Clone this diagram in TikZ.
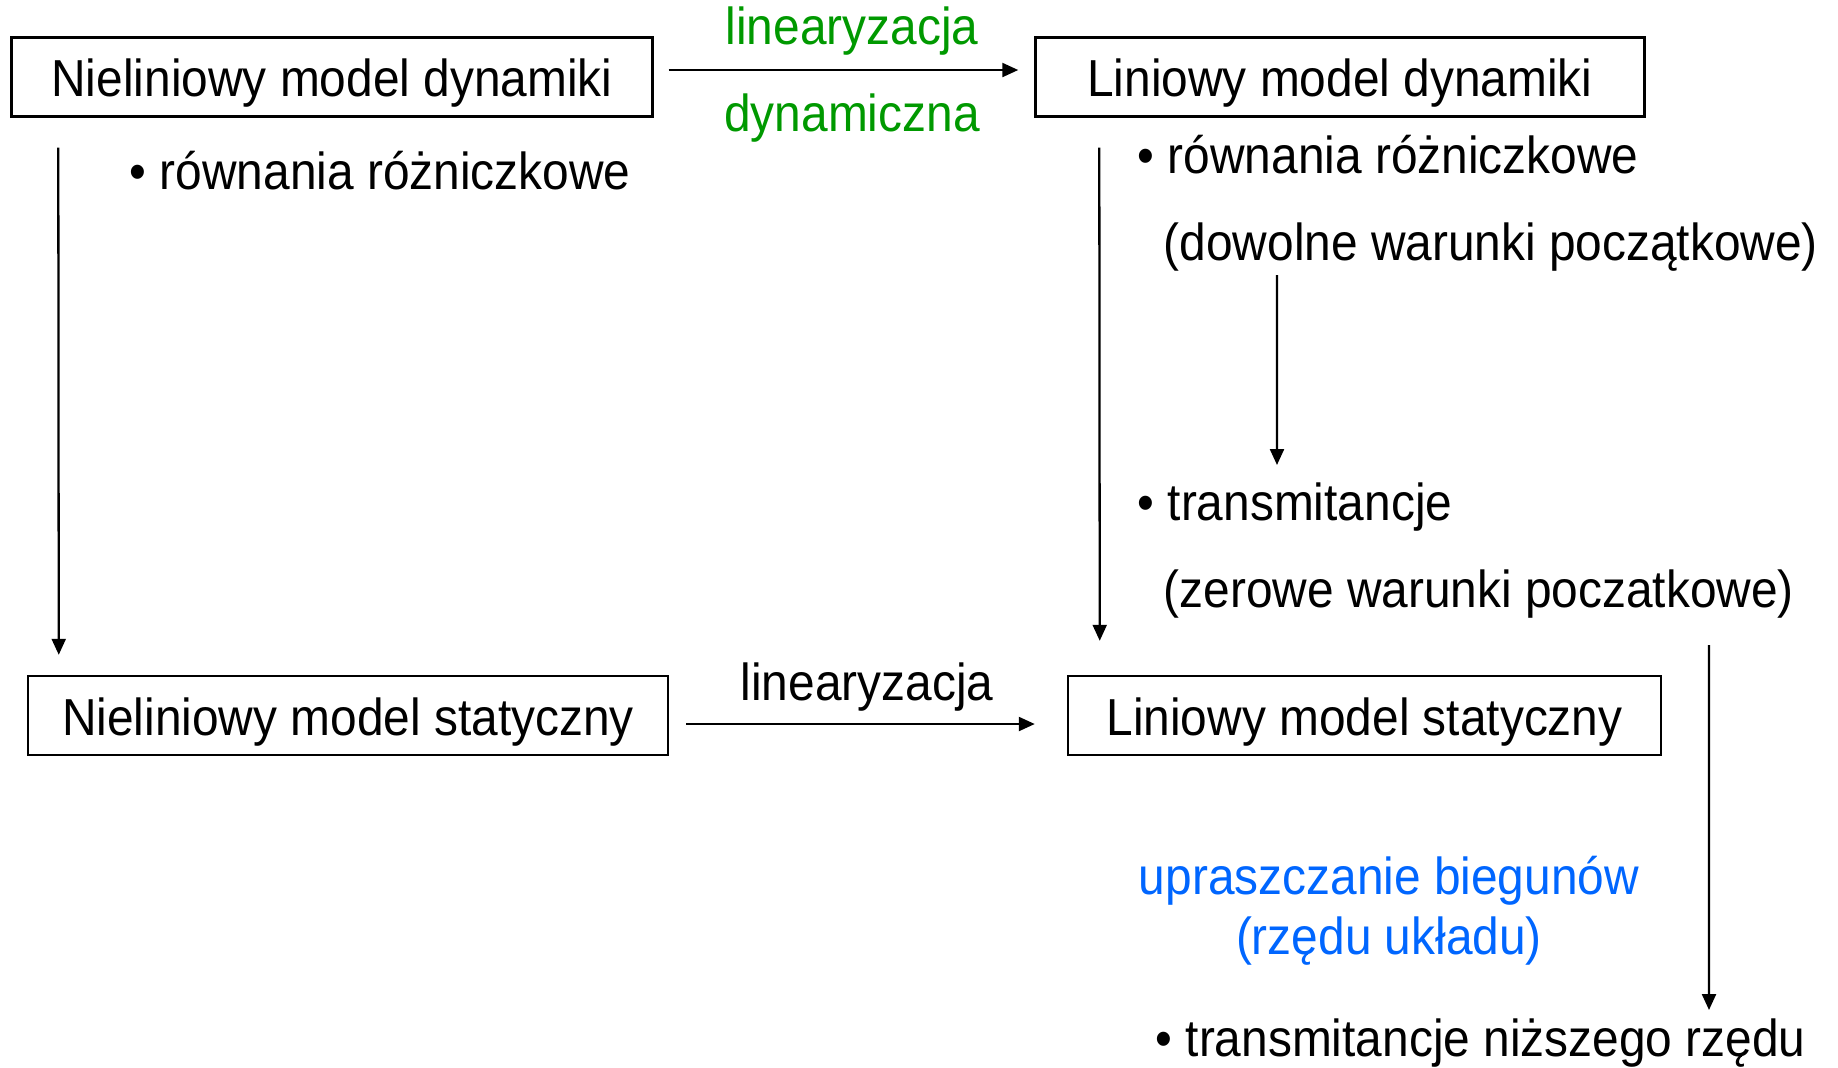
\documentclass[tikz,border=0pt]{standalone}
\usepackage{fontspec}
\setmainfont{Liberation Sans}[FakeStretch=0.92]
\usetikzlibrary{arrows.meta}
\definecolor{linGreen}{RGB}{0,153,0}
\definecolor{simpBlue}{RGB}{0,102,255}

\begin{document}
\begin{tikzpicture}[
    every node/.style={inner sep=0pt, font=\fontsize{14.8}{16.8}\selectfont},
    model/.style={draw, line width=0.7pt, minimum height=0.79cm, text height=0.55cm, text depth=0.16cm},
    item/.style={anchor=base west},
    arr/.style={line width=0.65pt, -{Triangle[length=0.16cm,width=0.14cm]}}
  ]
    \useasboundingbox (0,0) rectangle (18.38,-10.67);
    \node [model, minimum width=6.41cm] (nd) at (3.32,-0.77) {Nieliniowy model dynamiki};
    \node [model, minimum width=6.09cm] (ld) at (13.40,-0.77) {Liniowy model dynamiki};
    \node [model, minimum width=6.40cm] (ns) at (3.48,-7.155) {Nieliniowy model statyczny};
    \node [model, minimum width=5.93cm] (ls) at (13.645,-7.155) {Liniowy model statyczny};
    \node [anchor=base, linGreen] (lin1) at (8.52,-0.445) {linearyzacja};
    \node [anchor=base, linGreen] (dyn1) at (8.52,-1.31) {dynamiczna};
    \node [anchor=base] (lin2) at (8.67,-7.00) {linearyzacja};
    \node [item] (rl) at (1.29,-1.89) {• równania różniczkowe};
    \node [item] (rr) at (11.37,-1.73) {• równania różniczkowe};
    \node [item] (dw) at (11.63,-2.60) {(dowolne warunki początkowe)};
    \node [item] (tr) at (11.37,-5.20) {• transmitancje};
    \node [item] (zw) at (11.63,-6.07) {(zerowe warunki poczatkowe)};
    \node [anchor=base, align=center, simpBlue] (up) at (13.89,-9.54) {upraszczanie biegunów\\(rzędu układu)};
    \node [item] (tn) at (11.55,-10.56) {• transmitancje niższego rzędu};
    \draw [arr, shorten <=0.15cm, shorten >=0.16cm] ([yshift=0.07cm]nd.east) -- ([yshift=0.07cm]ld.west);
    \draw [arr, shorten <=0.17cm, shorten >=0.32cm] ([yshift=-0.085cm]ns.east) -- ([yshift=-0.085cm]ls.west);
    \draw [arr, shorten <=0.30cm, shorten >=0.20cm] ([xshift=0.48cm]nd.south west) -- ([xshift=0.32cm]ns.north west);
    \draw [arr, shorten <=0.30cm, shorten >=0.34cm] ([xshift=0.65cm]ld.south west) -- ([xshift=0.33cm]ls.north west);
    \draw [arr] ([xshift=1.14cm,yshift=-0.15cm]dw.base west) -- ([xshift=1.40cm,yshift=0.55cm]tr.base west);
    \draw [arr] ([xshift=5.46cm,yshift=-0.38cm]zw.base west) -- ([xshift=5.54cm,yshift=0.46cm]tn.base west);
\end{tikzpicture}
\end{document}
